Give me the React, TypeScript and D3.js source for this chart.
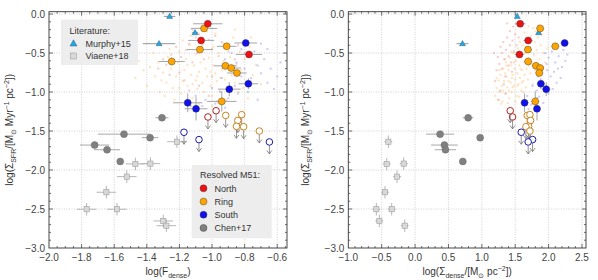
import React from "react";
import * as d3 from "d3";

// ---------------- DATA ----------------
// f: log(F_dense), s: log(Sigma_dense), sfr: log(Sigma_SFR); fe/se/ye errors
const NORTH = [
  { f: -1.026, s: 1.574, sfr: -0.125, fe: 0.09, se: 0.08, ye: 0.03 },
  { f: -1.067, s: 1.694, sfr: -0.338, fe: 0.08, se: 0.07, ye: 0.03 },
  { f: -0.773, s: 1.564, sfr: -0.518, fe: 0.08, se: 0.07, ye: 0.04 },
];
const RING = [
  { f: -1.049, s: 1.874, sfr: -0.184, fe: 0.08, se: 0.06, ye: 0.03 },
  { f: -1.074, s: 1.69, sfr: -0.456, fe: 0.08, se: 0.06, ye: 0.03 },
  { f: -1.247, s: 1.694, sfr: -0.608, fe: 0.08, se: 0.06, ye: 0.05 },
  { f: -0.91, s: 2.1, sfr: -0.414, fe: 0.06, se: 0.06, ye: 0.03 },
  { f: -0.918, s: 1.81, sfr: -0.664, fe: 0.07, se: 0.06, ye: 0.04 },
  { f: -0.882, s: 1.874, sfr: -0.692, fe: 0.06, se: 0.06, ye: 0.04 },
  { f: -0.847, s: 1.86, sfr: -0.756, fe: 0.06, se: 0.06, ye: 0.04 },
  { f: -0.94, s: 1.8, sfr: -1.12, fe: 0.09, se: 0.06, ye: 0.13 },
];
const SOUTH = [
  { f: -0.793, s: 2.24, sfr: -0.371, fe: 0.07, se: 0.06, ye: 0.03 },
  { f: -0.894, s: 1.964, sfr: -0.963, fe: 0.07, se: 0.06, ye: 0.09 },
  { f: -0.777, s: 1.884, sfr: -0.894, fe: 0.06, se: 0.06, ye: 0.07 },
  { f: -1.149, s: 1.64, sfr: -1.138, fe: 0.09, se: 0.06, ye: 0.12 },
  { f: -1.098, s: 1.826, sfr: -1.215, fe: 0.07, se: 0.06, ye: 0.15 },
];
const NORTH_LIM = [
  { f: -1.025, s: 1.46, sfr: -1.32 },
  { f: -0.975, s: 1.425, sfr: -1.24 },
];
const RING_LIM = [
  { f: -0.916, s: 1.68, sfr: -1.3 },
  { f: -0.818, s: 1.72, sfr: -1.29 },
  { f: -0.842, s: 1.73, sfr: -1.365 },
  { f: -0.85, s: 1.7, sfr: -1.44 },
  { f: -0.806, s: 1.66, sfr: -1.445 },
  { f: -0.71, s: 1.72, sfr: -1.5 },
];
const SOUTH_LIM = [
  { f: -1.172, s: 1.59, sfr: -1.516 },
  { f: -1.08, s: 1.76, sfr: -1.61 },
  { f: -0.648, s: 1.694, sfr: -1.64 },
];
const CHEN = [
  { f: -1.307, s: 0.795, sfr: -1.33, fe: 0.04, se: 0.08 },
  { f: -1.54, s: 0.375, sfr: -1.54, fe: 0.16, se: 0.21 },
  { f: -1.38, s: 0.975, sfr: -1.585, fe: 0.05, se: 0.04 },
  { f: -1.72, s: 0.44, sfr: -1.68, fe: 0.09, se: 0.2 },
  { f: -1.644, s: 0.455, sfr: -1.74, fe: 0.08, se: 0.16 },
  { f: -1.563, s: 0.715, sfr: -1.89, fe: 0, se: 0 },
];
const MURPHY = [
  { f: -1.26, s: 1.53, sfr: -0.03, fe: 0.035, se: 0.0 },
  { f: -1.104, s: 1.85, sfr: -0.24, fe: 0.02, se: 0.03 },
  { f: -1.325, s: 0.71, sfr: -0.38, fe: 0.1, se: 0.09 },
];
const VIAENE = [
  { f: -1.215, s: -0.4, sfr: -1.637 },
  { f: -1.47, s: -0.425, sfr: -1.922 },
  { f: -1.378, s: -0.17, sfr: -1.918 },
  { f: -1.523, s: -0.27, sfr: -2.085 },
  { f: -1.648, s: -0.45, sfr: -2.285 },
  { f: -1.769, s: -0.58, sfr: -2.503 },
  { f: -1.583, s: -0.35, sfr: -2.503 },
  { f: -1.299, s: -0.535, sfr: -2.653 },
  { f: -1.28, s: -0.155, sfr: -2.714 },
];

// pixel-level clouds [x, y]
const CLOUD_L_RING = [
  [-1.42,-0.72],[-1.38,-0.68],[-1.35,-0.80],[-1.33,-0.62],[-1.30,-0.75],[-1.28,-0.88],[-1.27,-0.55],[-1.25,-0.70],[-1.24,-0.95],[-1.22,-0.80],[-1.21,-0.62],[-1.20,-0.48],[-1.19,-1.02],[-1.18,-0.86],[-1.17,-0.72],[-1.16,-0.58],[-1.15,-0.92],[-1.14,-0.40],[-1.13,-0.78],[-1.12,-1.08],[-1.11,-0.66],[-1.10,-0.85],[-1.10,-0.52],[-1.09,-0.96],[-1.08,-0.74],[-1.07,-0.62],[-1.06,-0.88],[-1.05,-1.00],[-1.05,-0.35],[-1.04,-0.70],[-1.03,-0.80],[-1.02,-0.56],[-1.01,-0.92],[-1.00,-1.05],[-0.99,-0.66],[-0.98,-0.76],[-0.97,-0.86],[-0.96,-0.50],[-0.95,-0.98],[-0.94,-0.72],[-0.93,-0.60],[-0.92,-0.84],[-0.91,-1.10],[-0.90,-0.94],[-0.89,-0.55],[-0.88,-0.78],[-0.87,-0.30],[-0.86,-0.88],[-0.85,-0.64],[-0.84,-1.00],[-0.82,-0.72],[-0.80,-0.58],[-0.79,-0.90],[-0.77,-0.42],[-0.75,-0.78],[-0.73,-0.65],[-1.47,-0.82],[-1.45,-0.60],[-1.40,-0.92],[-1.32,-1.00],[-1.26,-0.45],[-1.23,-1.10],[-1.18,-0.34],[-1.13,-0.28],[-0.98,-0.25],[-0.93,-0.38],[-0.83,-0.48],[-0.78,-1.08],[-0.70,-0.90],[-1.08,-1.15],[-1.00,-1.18],[-0.96,-1.14],[-1.16,-1.12],[-1.36,-0.50],[-1.29,-1.05],[-1.20,-0.95],[-1.12,-0.90],[-1.06,-0.46],[-0.99,-0.42],[-0.90,-0.68],[-0.86,-0.20],[-1.03,-0.22],[-1.15,-0.65],[-1.09,-0.80],[-1.01,-0.74],[-0.95,-0.82],[-1.24,-0.60],[-1.31,-0.85],[-0.81,-0.95],[-0.76,-0.30],
];
const CLOUD_L_NORTH = [
  [-1.12,-0.20],[-1.10,-0.30],[-1.08,-0.26],[-1.06,-0.40],[-1.04,-0.16],[-1.02,-0.33],[-1.00,-0.45],[-0.98,-0.28],[-1.14,-0.38],[-1.16,-0.46],[-1.19,-0.55],[-1.22,-0.42],[-1.25,-0.52],[-1.28,-0.65],[-1.30,-0.58],[-1.33,-0.70],[-1.20,-0.75],[-1.12,-0.62],[-1.05,-0.58],[-0.96,-0.54],[-0.94,-0.36],[-0.90,-0.48],[-0.86,-0.58],[-1.09,-0.50],[-1.17,-0.85],[-1.08,-0.92],[-1.00,-0.80],[-0.92,-0.70],[-1.26,-0.78],[-1.02,-1.05],[-0.84,-0.40],[-0.80,-0.50],[-1.14,-0.98],[-0.97,-1.12],
];
const CLOUD_L_SOUTH = [
  [-0.92,-0.58],[-0.88,-0.50],[-0.85,-0.62],[-0.82,-0.45],[-0.80,-0.70],[-0.78,-0.55],[-0.76,-0.82],[-0.74,-0.48],[-0.72,-0.66],[-0.70,-0.76],[-0.68,-0.58],[-0.66,-0.88],[-0.64,-0.70],[-0.62,-0.96],[-0.60,-0.80],[-0.86,-0.92],[-0.84,-1.02],[-0.90,-1.08],[-0.95,-1.00],[-1.00,-0.95],[-1.04,-1.10],[-1.10,-1.05],[-1.06,-1.18],[-0.98,-1.15],[-0.78,-1.00],[-0.72,-1.10],[-0.94,-0.82],[-0.70,-0.38],[-0.66,-0.45],[-0.82,-0.80],[-0.88,-0.70],[-0.58,-0.62],[-1.13,-1.18],[-0.92,-1.20],
];
const CLOUD_R_RING = [
  [1.20,-1.05],[1.22,-0.95],[1.24,-1.10],[1.25,-0.85],[1.27,-1.00],[1.28,-0.78],[1.30,-0.92],[1.31,-1.12],[1.32,-0.70],[1.33,-0.86],[1.35,-1.02],[1.36,-0.62],[1.37,-0.80],[1.38,-0.94],[1.40,-0.72],[1.41,-1.08],[1.42,-0.56],[1.43,-0.88],[1.44,-0.66],[1.45,-1.00],[1.46,-0.78],[1.47,-0.50],[1.48,-0.92],[1.49,-0.70],[1.50,-0.84],[1.51,-0.60],[1.52,-1.05],[1.53,-0.76],[1.54,-0.44],[1.55,-0.90],[1.56,-0.66],[1.57,-0.82],[1.58,-0.54],[1.59,-0.98],[1.60,-0.72],[1.61,-0.40],[1.62,-0.86],[1.63,-0.62],[1.64,-0.78],[1.65,-0.50],[1.66,-0.94],[1.67,-0.70],[1.68,-0.34],[1.69,-0.84],[1.70,-0.58],[1.72,-0.44],[1.73,-0.76],[1.74,-0.28],[1.75,-0.64],[1.76,-0.90],[1.78,-0.52],[1.79,-0.36],[1.80,-0.72],[1.81,-0.22],[1.82,-0.46],[1.84,-0.30],[1.86,-0.58],[1.88,-0.40],[1.90,-0.26],[1.92,-0.50],[1.26,-0.72],[1.29,-1.15],[1.34,-0.58],[1.39,-1.14],[1.44,-0.48],[1.50,-1.12],[1.56,-1.06],[1.62,-1.00],[1.35,-0.76],[1.40,-0.86],[1.45,-0.82],[1.48,-0.62],[1.53,-0.92],[1.58,-0.70],[1.41,-0.98],[1.37,-0.66],[1.52,-0.52],[1.57,-0.36],[1.64,-0.24],[1.70,-0.16],[1.77,-0.18],[1.85,-0.14],[1.22,-0.82],[1.31,-0.98],[1.46,-0.94],[1.60,-0.88],[1.95,-0.62],[1.98,-0.44],[1.66,-0.42],[1.71,-0.66],
];
const CLOUD_R_NORTH = [
  [1.28,-0.42],[1.30,-0.50],[1.32,-0.36],[1.34,-0.58],[1.36,-0.46],[1.38,-0.30],[1.40,-0.54],[1.42,-0.40],[1.44,-0.62],[1.46,-0.34],[1.48,-0.48],[1.50,-0.26],[1.52,-0.40],[1.26,-0.64],[1.24,-0.55],[1.22,-0.72],[1.30,-0.70],[1.35,-0.80],[1.40,-0.66],[1.45,-0.74],[1.20,-0.86],[1.18,-0.50],[1.33,-0.90],[1.27,-0.98],[1.42,-0.22],[1.47,-0.16],[1.55,-0.30],[1.38,-0.12],[1.25,-1.10],[1.36,-1.02],
];
const CLOUD_R_SOUTH = [
  [1.95,-0.50],[2.00,-0.56],[2.05,-0.48],[2.10,-0.62],[2.15,-0.54],[2.20,-0.68],[2.25,-0.60],[1.98,-0.72],[2.03,-0.80],[2.08,-0.74],[2.12,-0.88],[2.18,-0.82],[1.90,-0.86],[1.94,-0.96],[2.00,-1.02],[1.86,-1.06],[1.82,-0.98],[1.78,-1.10],[1.74,-1.16],[1.70,-1.22],[1.88,-0.70],[1.92,-1.14],[2.06,-0.96],[1.84,-0.80],[2.22,-0.46],[2.28,-0.52],[1.76,-0.92],[1.68,-1.05],[1.97,-0.64],[2.14,-0.70],
];

const LEFT_XTICKS = [-2.0, -1.8, -1.6, -1.4, -1.2, -1.0, -0.8, -0.6];
const RIGHT_XTICKS = [-1.0, -0.5, 0.0, 0.5, 1.0, 1.5, 2.0, 2.5];
const YTICKS = [0.0, -0.5, -1.0, -1.5, -2.0, -2.5, -3.0];

// ---------------- STYLE ----------------
const FONT = "'Liberation Sans', Arial, Helvetica, sans-serif";
const C_RED = "#ee1111";
const C_ORANGE = "#ffa500";
const C_BLUE = "#1010ee";
const C_GRAY = "#808080";
const C_CYAN = "#1eaae2";
const TOP = 11.7, BOTTOM = 248;

const yScale = d3.scaleLinear().domain([-3.0, 0.03]).range([BOTTOM, TOP]);

type Seg = { t: string; k?: "sub" | "sup" };

function RichText({ segs, x, y, rotate, size }: { segs: Seg[]; x: number; y: number; rotate?: boolean; size: number }) {
  const small = size * 0.7;
  const parts: any[] = [];
  let shift = 0;
  segs.forEach((s, i) => {
    let target = 0;
    if (s.k === "sub") target = size * 0.3;
    if (s.k === "sup") target = -size * 0.38;
    const dy = target - shift;
    shift = target;
    parts.push(
      <tspan key={i} dy={dy} fontSize={s.k ? small : size}>
        {s.t}
      </tspan>
    );
  });
  return (
    <text
      x={x}
      y={y}
      textAnchor="middle"
      fontFamily={FONT}
      fill="#333"
      transform={rotate ? `rotate(-90 ${x} ${y})` : undefined}
    >
      {parts}
    </text>
  );
}

function Panel({ which }: { which: "L" | "R" }) {
  const isL = which === "L";
  const x = isL
    ? d3.scaleLinear().domain([-2.0, -0.54]).range([49, 287])
    : d3.scaleLinear().domain([-1.0, 2.56]).range([348.3, 586]);
  const [x0, x1] = x.range();
  const xTicks = isL ? LEFT_XTICKS : RIGHT_XTICKS;
  const xMinorStep = isL ? 0.05 : 0.1;
  const xd = x.domain();
  const xMinor = d3.range(Math.ceil(xd[0] / xMinorStep - 1e-6), Math.floor(xd[1] / xMinorStep + 1e-6) + 1).map((k) => k * xMinorStep);
  const yMinor = d3.range(-30, 1).map((k) => k / 10);
  const gx = (d: any) => x(isL ? d.f : d.s);
  const gxe = (d: any) => (isL ? d.fe : d.se) || 0;
  const v = (d: any) => (isL ? d.f : d.s);

  const clouds = isL
    ? [[CLOUD_L_RING, "#ffbe6a"], [CLOUD_L_NORTH, "#f08a8a"], [CLOUD_L_SOUTH, "#8c8cf2"]]
    : [[CLOUD_R_RING, "#ffbe6a"], [CLOUD_R_NORTH, "#f08a8a"], [CLOUD_R_SOUTH, "#8c8cf2"]];

  const errbar = (d: any, color: string, ye: number, key: string) => {
    const cx = gx(d), cy = yScale(d.sfr);
    const xe = gxe(d);
    return (
      <g key={key} stroke={color} strokeWidth={1}>
        {xe > 0 && <line x1={x(v(d) - xe)} x2={x(v(d) + xe)} y1={cy} y2={cy} />}
        {ye > 0 && <line x1={cx} x2={cx} y1={yScale(d.sfr - ye)} y2={yScale(d.sfr + ye)} />}
      </g>
    );
  };

  const R = 3.5;
  const filled = (arr: any[], fill: string, key: string) =>
    arr.map((d, i) => (
      <circle key={key + i} cx={gx(d)} cy={yScale(d.sfr)} r={R} fill={fill} stroke="#333" strokeWidth={0.4} />
    ));
  const limits = (arr: any[], stroke: string, key: string) =>
    arr.map((d, i) => {
      const cx = gx(d), cy = yScale(d.sfr);
      return (
        <g key={key + i}>
          <line x1={cx} x2={cx} y1={cy + R} y2={cy + 12} stroke="#777" strokeWidth={0.8} />
          <path d={`M${cx - 2.5},${cy + 8.5}L${cx},${cy + 12}L${cx + 2.5},${cy + 8.5}`} fill="none" stroke="#777" strokeWidth={0.8} />
          <circle cx={cx} cy={cy} r={R - 0.2} fill="white" stroke={stroke} strokeWidth={1} />
        </g>
      );
    });

  return (
    <g>
      <defs>
        <clipPath id={"clip" + which}>
          <rect x={x0} y={TOP} width={x1 - x0} height={BOTTOM - TOP} />
        </clipPath>
      </defs>
      {/* grid */}
      <g stroke="#bbb" strokeWidth={0.7} strokeDasharray="1,1.5">
        {xTicks.filter((t) => x(t) > x0 + 1 && x(t) < x1 - 1).map((t) => (
          <line key={"gx" + t} x1={x(t)} x2={x(t)} y1={TOP} y2={BOTTOM} />
        ))}
        {YTICKS.filter((t) => yScale(t) > TOP + 1 && yScale(t) < BOTTOM - 1).map((t) => (
          <line key={"gy" + t} x1={x0} x2={x1} y1={yScale(t)} y2={yScale(t)} />
        ))}
      </g>
      <g clipPath={`url(#clip${which})`}>
        {/* clouds */}
        {clouds.map(([pts, col]: any, ci) =>
          pts.map((p: number[], i: number) => (
            <rect key={`c${ci}-${i}`} x={x(p[0]) - 1} y={yScale(p[1]) - 1} width={2} height={2} fill={col} opacity={0.45} />
          ))
        )}
        {/* Viaene */}
        {VIAENE.map((d, i) => {
          const cx = gx(d), cy = yScale(d.sfr);
          const xe = 0.06;
          return (
            <g key={"v" + i}>
              <g stroke="#b5b5b5" strokeWidth={1}>
                <line x1={x(v(d) - xe)} x2={x(v(d) + xe)} y1={cy} y2={cy} />
                <line x1={cx} x2={cx} y1={yScale(d.sfr - 0.08)} y2={yScale(d.sfr + 0.08)} />
              </g>
              <rect x={cx - 2.6} y={cy - 2.6} width={5.2} height={5.2} fill="#d8d8d8" stroke="#a0a0a0" strokeWidth={0.6} />
            </g>
          );
        })}
        {/* Chen */}
        {CHEN.map((d, i) => errbar(d, "#a8a8a8", 0, "ce" + i))}
        {CHEN.map((d, i) => (
          <circle key={"c" + i} cx={gx(d)} cy={yScale(d.sfr)} r={R} fill={C_GRAY} stroke="#666" strokeWidth={0.4} />
        ))}
        {/* limits */}
        {limits(NORTH_LIM, "#b22222", "nl")}
        {limits(RING_LIM, "#c8861e", "rl")}
        {limits(SOUTH_LIM, "#1c1caa", "sl")}
        {/* Murphy */}
        {MURPHY.map((d, i) => errbar(d, "#999", 0, "me" + i))}
        {MURPHY.map((d, i) => {
          const cx = gx(d), cy = yScale(d.sfr);
          return <path key={"m" + i} d={`M${cx},${cy - 3.2}L${cx + 3},${cy + 2}L${cx - 3},${cy + 2}Z`} fill={C_CYAN} stroke="#2a4a6a" strokeWidth={0.4} />;
        })}
        {/* error bars of resolved */}
        {[...NORTH, ...RING, ...SOUTH].map((d, i) => errbar(d, "#a5a5a5", d.ye, "e" + i))}
        {filled(RING, C_ORANGE, "r")}
        {filled(SOUTH, C_BLUE, "s")}
        {filled(NORTH, C_RED, "n")}
      </g>
      {/* ticks */}
      <g stroke="#333" strokeWidth={0.7}>
        {xMinor.map((t, i) => {
          const major = xTicks.some((m) => Math.abs(m - t) < 1e-6);
          const len = major ? 4 : 2;
          const px = x(t);
          if (px < x0 + 0.5 || px > x1 - 0.5) return null;
          return (
            <g key={"xt" + i}>
              <line x1={px} x2={px} y1={BOTTOM} y2={BOTTOM - len} />
              <line x1={px} x2={px} y1={TOP} y2={TOP + len} />
            </g>
          );
        })}
        {yMinor.map((t, i) => {
          const major = YTICKS.some((m) => Math.abs(m - t) < 1e-6);
          const len = major ? 4 : 2;
          const py = yScale(t);
          if (py > BOTTOM - 0.5 || py < TOP + 0.5) return null;
          return (
            <g key={"yt" + i}>
              <line x1={x0} x2={x0 + len} y1={py} y2={py} />
              <line x1={x1} x2={x1 - len} y1={py} y2={py} />
            </g>
          );
        })}
      </g>
      {/* frame */}
      <rect x={x0} y={TOP} width={x1 - x0} height={BOTTOM - TOP} fill="none" stroke="#333" strokeWidth={0.9} />
      {/* tick labels */}
      <g fontFamily={FONT} fontSize={10} fill="#444">
        {xTicks.map((t) => (
          <text key={"xl" + t} x={x(t)} y={261} textAnchor="middle">
            {d3.format(".1f")(t).replace("-", "\u2212")}
          </text>
        ))}
        {YTICKS.map((t) => (
          <text key={"yl" + t} x={x0 - 4} y={yScale(t) + 3.5} textAnchor="end">
            {d3.format(".1f")(t).replace("-", "\u2212")}
          </text>
        ))}
      </g>
      {/* axis labels */}
      <RichText
        x={isL ? 13 : 309}
        y={(TOP + BOTTOM) / 2}
        rotate
        size={10}
        segs={[
          { t: "log(\u03a3" },
          { t: "SFR", k: "sub" },
          { t: "/[M" },
          { t: "\u2299", k: "sub" },
          { t: " Myr" },
          { t: "\u22121", k: "sup" },
          { t: "  pc" },
          { t: "\u22122", k: "sup" },
          { t: "])" },
        ]}
      />
      {isL ? (
        <RichText x={(x0 + x1) / 2} y={275} size={10} segs={[{ t: "log(F" }, { t: "dense", k: "sub" }, { t: ")" }]} />
      ) : (
        <RichText
          x={(x0 + x1) / 2}
          y={275}
          size={10}
          segs={[
            { t: "log(\u03a3" },
            { t: "dense", k: "sub" },
            { t: "/[M" },
            { t: "\u2299", k: "sub" },
            { t: " pc" },
            { t: "\u22122", k: "sup" },
            { t: "])" },
          ]}
        />
      )}
    </g>
  );
}

function Legends() {
  const lf = { fontFamily: FONT, fontSize: 9, fill: "#333" } as any;
  const leg2 = [
    { label: "North", c: C_RED },
    { label: "Ring", c: C_ORANGE },
    { label: "South", c: C_BLUE },
    { label: "Chen+17", c: C_GRAY },
  ];
  return (
    <g>
      <rect x={61} y={19.5} width={77} height={45.5} fill="#ededed" />
      <text x={69.5} y={33.5} {...lf}>Literature:</text>
      <path d="M73.5,39.8L77,46L70,46Z" fill={C_CYAN} stroke="#2a4a6a" strokeWidth={0.4} />
      <text x={85.5} y={46.5} {...lf}>Murphy+15</text>
      <rect x={70.3} y={53} width={6} height={6} fill="#d8d8d8" stroke="#a0a0a0" strokeWidth={0.6} />
      <text x={85.5} y={59.3} {...lf}>Viaene+18</text>

      <rect x={191.7} y={165} width={80} height={73.3} fill="#ededed" />
      <text x={200} y={178.3} {...lf}>Resolved M51:</text>
      {leg2.map((d, i) => (
        <g key={d.label}>
          <circle cx={203.5} cy={188.3 + i * 13.2} r={3.5} fill={d.c} stroke="#333" strokeWidth={0.4} />
          <text x={214.5} y={191.5 + i * 13.2} {...lf}>{d.label}</text>
        </g>
      ))}
    </g>
  );
}

export default function App() {
  return (
    <svg width={598} height={280} style={{ position: "absolute", left: 0, top: 0, background: "white" }}>
      <Panel which="L" />
      <Panel which="R" />
      <Legends />
    </svg>
  );
}
